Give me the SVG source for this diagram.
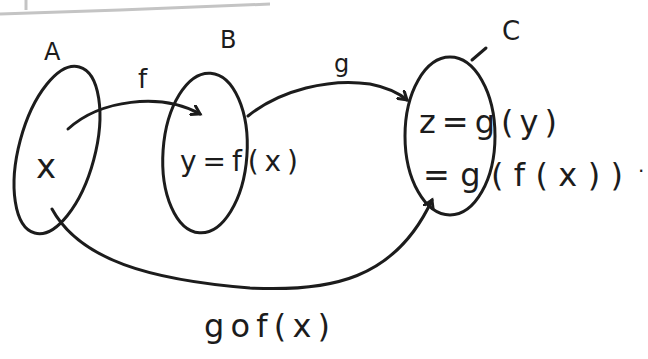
<svg xmlns="http://www.w3.org/2000/svg" width="648" height="359" viewBox="0 0 648 359">
<style>
.set{fill:none;stroke:#1c1c1c;stroke-width:3}
.edge{fill:none;stroke:#1c1c1c;stroke-width:3;stroke-linecap:round}
.t{font-family:"DejaVu Sans","Liberation Sans",sans-serif;fill:#1c1c1c}
</style>
<defs>
<marker id="ah" markerWidth="12" markerHeight="12" refX="9" refY="6" orient="auto" markerUnits="userSpaceOnUse">
<path d="M1,1 L9,6 L1,11" fill="none" stroke="#1c1c1c" stroke-width="3" stroke-linecap="round"/>
</marker>
</defs>
<rect width="648" height="359" fill="#fff"/>
<g id="page-edge" stroke="#c4c4c4" stroke-width="3" fill="none">
<path d="M0,14 L120,10 L270,4"/>
<path d="M26,0 L26,10"/>
</g>
<g id="A">
<ellipse class="set" cx="57" cy="150" rx="38" ry="86" transform="rotate(15 57 150)"/>
<text class="t" x="44" y="60" font-size="24">A</text>
<text class="t" x="36" y="178" font-size="34">x</text>
</g>
<g id="B">
<ellipse class="set" cx="205" cy="153" rx="42" ry="80" transform="rotate(4 205 153)"/>
<text class="t" x="220" y="48" font-size="24">B</text>
<text class="t" x="180" y="171" font-size="28" textLength="118" lengthAdjust="spacing">y=f(x)</text>
</g>
<g id="C">
<ellipse class="set" cx="450" cy="136" rx="45" ry="79"/>
<text class="t" x="502" y="40" font-size="26">C</text>
<path class="edge" d="M486,48 L472,60" stroke-width="2"/>
<text class="t" x="419" y="133" font-size="32" textLength="138" lengthAdjust="spacing">z=g(y)</text>
<text class="t" x="423" y="186" font-size="32" textLength="200" lengthAdjust="spacing">=g(f(x))</text>
<text class="t" x="638" y="172" font-size="20">.</text>
</g>
<g id="connectors">
<path class="edge" d="M68,129 C100,100 160,92 200,114" marker-end="url(#ah)"/>
<text class="t" x="138" y="88" font-size="26">f</text>
<path class="edge" d="M248,116 C280,90 330,78 370,84 C390,88 400,94 407,100" marker-end="url(#ah)"/>
<text class="t" x="334" y="72" font-size="24">g</text>
<path class="edge" d="M52,209 C80,260 150,280 250,288 C330,292 395,280 432,200" marker-end="url(#ah)"/>
<text class="t" x="204" y="337" font-size="32" textLength="126" lengthAdjust="spacing">gof(x)</text>
</g>
</svg>
